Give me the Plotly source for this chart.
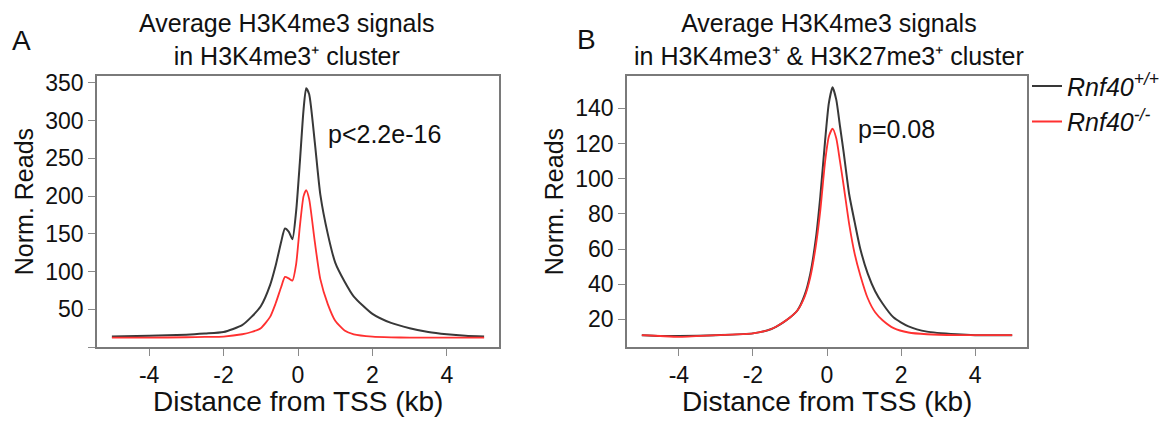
import plotly.graph_objects as go
from plotly.subplots import make_subplots

# ------------------------------- Datos -------------------------------

# Panel A: H3K4me3+ cluster
a_dist = [-5, -4, -3, -2.5, -2, -1.5, -1.25, -1, -0.75, -0.6, -0.45, -0.35, -0.25, -0.15,
          -0.05, 0.05, 0.15, 0.22, 0.3, 0.45, 0.6, 0.8, 1.0, 1.25, 1.5, 2, 2.5, 3, 3.5, 4, 4.5, 5]
a_wt = [14, 15, 16.5, 18, 20, 29, 40, 54, 82, 108, 140, 157, 153, 143,
        180, 245, 315, 343, 335, 272, 202, 150, 112, 87, 67, 44, 32, 25, 20, 17, 15, 14]
a_ko = [12.5, 12.5, 13, 13.5, 14, 17, 20, 25, 40, 58, 80, 93, 91, 88,
        110, 160, 200, 208, 196, 140, 90, 57, 35, 22, 17, 14, 13, 12.5, 12.5, 12.5, 12.5, 12.5]

# Panel B: H3K4me3+ & H3K27me3+ cluster
b_dist = [-5, -4.5, -4, -3, -2, -1.5, -1.2, -1, -0.8, -0.6, -0.45, -0.3, -0.18, -0.05, 0.05,
          0.15, 0.25, 0.35, 0.45, 0.6, 0.75, 0.9, 1.1, 1.3, 1.5, 1.8, 2.2, 2.7, 3.5, 4, 5]
b_wt = [11, 10.5, 10.5, 11, 12, 14.5, 18, 21, 25, 34, 46, 66, 90, 122, 143,
        152, 145, 130, 115, 91, 75, 60, 46, 36, 29, 21, 16, 13, 11.5, 11, 11]
b_ko = [11, 10.5, 10, 11, 12, 14.5, 18, 21, 25, 33, 44, 62, 82, 110, 124,
        128.5, 123, 110, 96, 74, 57, 45, 32, 24, 19.5, 15, 12.5, 11.5, 11, 11, 11]

x_ticks = [-4, -2, 0, 2, 4]
x_text = ["-4", "-2", "0", "2", "4"]
a_yticks = [0, 50, 100, 150, 200, 250, 300, 350]
a_ytext = [""] + [str(v) for v in a_yticks[1:]]
b_yticks = [20, 40, 60, 80, 100, 120, 140]

nombre_wt = "<i>Rnf40<sup>+/+</sup></i>"
nombre_ko = "<i>Rnf40<sup>-/-</sup></i>"
color_wt = "#383838"
color_ko = "#ff3030"

fuente = "Liberation Sans, Arial, sans-serif"

# La página deja 8 px de margen en el body: la figura se reduce y se desplaza
OFF = 8
W, H = 1170 - OFF, 421 - OFF

def px_x(p):
    return (p - OFF) / W

def px_y(p):
    return 1 - (p - OFF) / H

# ------------------------------- Figura -------------------------------

fig = make_subplots(rows=1, cols=2)

linea = dict(shape="spline", smoothing=0.6)
fig.add_trace(go.Scatter(x=a_dist, y=a_wt, mode="lines", name=nombre_wt,
                         line=dict(linea, color=color_wt, width=2)), row=1, col=1)
fig.add_trace(go.Scatter(x=a_dist, y=a_ko, mode="lines", name=nombre_ko,
                         line=dict(linea, color=color_ko, width=1.8)), row=1, col=1)
fig.add_trace(go.Scatter(x=b_dist, y=b_wt, mode="lines", name=nombre_wt, showlegend=False,
                         line=dict(linea, color=color_wt, width=2)), row=1, col=2)
fig.add_trace(go.Scatter(x=b_dist, y=b_ko, mode="lines", name=nombre_ko, showlegend=False,
                         line=dict(linea, color=color_ko, width=1.8)), row=1, col=2)

eje = dict(showline=True, mirror=True, linecolor="#7a7a7a", linewidth=1.5,
           ticks="outside", ticklen=7, tickwidth=1.2, tickcolor="#8a8a8a",
           showgrid=False, zeroline=False,
           tickfont=dict(family=fuente, size=23, color="#111111"))

y_dom = [px_y(346), px_y(71)]
fig.update_layout(
    xaxis=dict(eje, domain=[px_x(97), px_x(499)], range=[-5.4, 5.4], tickvals=x_ticks, ticktext=x_text),
    yaxis=dict(eje, domain=y_dom, range=[0, 359], tickvals=a_yticks, ticktext=a_ytext),
    xaxis2=dict(eje, domain=[px_x(627), px_x(1027)], range=[-5.4, 5.4], tickvals=x_ticks, ticktext=x_text),
    yaxis2=dict(eje, domain=y_dom, range=[4.2, 158.4], tickvals=b_yticks),
    width=W, height=H,
    margin=dict(l=0, r=0, t=0, b=0),
    plot_bgcolor="white", paper_bgcolor="white",
    font=dict(family=fuente, color="#111111"),
    legend=dict(x=px_x(1027), y=px_y(58), xanchor="left", yanchor="top",
                font=dict(family=fuente, size=25, color="#111111"),
                bgcolor="rgba(0,0,0,0)", tracegroupgap=0),
)

# Textos
def texto(x, y, t, size, **kw):
    fig.add_annotation(x=px_x(x), y=px_y(y), xref="paper", yref="paper", text=t,
                       xanchor="center", yanchor="middle", showarrow=False,
                       font=dict(family=fuente, size=size, color="#111111"), **kw)

texto(21, 35, "A", 28)
texto(586, 34, "B", 28)
texto(287, 34, "Average H3K4me3 signals<br>in H3K4me3⁺ cluster", 25)
texto(829, 34, "Average H3K4me3 signals<br>in H3K4me3⁺ &amp; H3K27me3⁺ cluster", 25)
texto(384, 130, "p&lt;2.2e-16", 25)
texto(896, 125, "p=0.08", 25)
texto(298, 401, "Distance from TSS (kb)", 28)
texto(827, 401, "Distance from TSS (kb)", 28)
texto(24, 199, "Norm. Reads", 25, textangle=-90)
texto(554, 199, "Norm. Reads", 25, textangle=-90)

fig.write_html("out.html")
